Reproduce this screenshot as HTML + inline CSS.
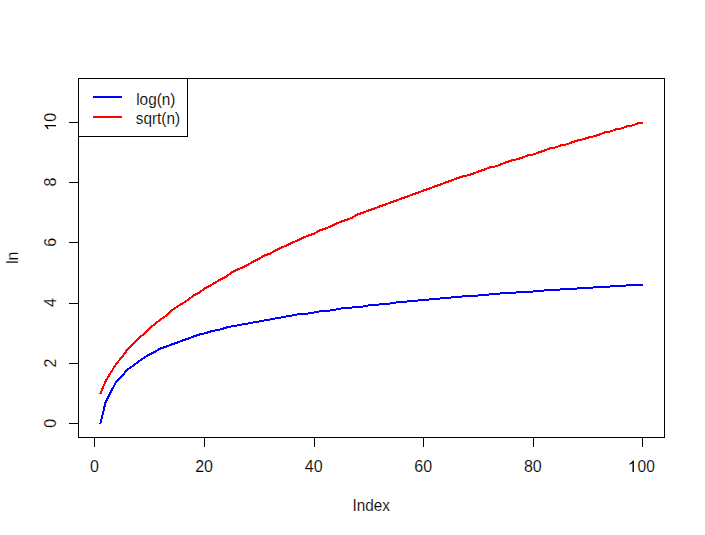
<!DOCTYPE html>
<html><head><meta charset="utf-8"><title>plot</title>
<style>
html,body{margin:0;padding:0;background:#fff;}
body{width:705px;height:535px;overflow:hidden;}
svg{display:block;}
text{font-family:"Liberation Sans",sans-serif;font-size:16px;fill:#000;stroke:#fff;stroke-width:0.15px;}
</style></head><body>
<svg width="705" height="535" viewBox="0 0 705 535">
<rect x="0" y="0" width="705" height="535" fill="#fff"/>
<g fill="none" stroke-width="2" stroke-linejoin="round" stroke-linecap="butt" shape-rendering="crispEdges">
<polyline stroke="#0000ff" points="100.40,424.00 100.46,423.49 105.46,402.49 111.46,390.49 116.46,381.49 122.46,375.49 127.46,369.49 133.46,365.49 138.46,361.49 144.46,357.49 149.46,354.49 155.46,351.49 160.46,348.49 166.46,346.49 171.46,344.49 177.46,342.49 182.46,340.49 188.46,338.49 193.46,336.49 199.46,334.49 204.46,333.49 210.46,331.49 215.46,330.49 220.46,329.49 226.46,327.49 231.46,326.49 237.46,325.49 242.46,324.49 248.46,323.49 253.46,322.49 259.46,321.49 264.46,320.49 270.46,319.49 275.46,318.49 281.46,317.49 286.46,316.49 292.46,315.49 297.46,314.49 303.46,314.49 308.46,313.49 314.46,312.49 319.46,311.49 325.46,311.49 330.46,310.49 336.46,309.49 341.46,308.49 347.46,308.49 352.46,307.49 357.46,307.49 363.46,306.49 368.46,305.49 374.46,305.49 379.46,304.49 385.46,304.49 390.46,303.49 396.46,302.49 401.46,302.49 407.46,301.49 412.46,301.49 418.46,300.49 423.46,300.49 429.46,299.49 434.46,299.49 440.46,298.49 445.46,298.49 451.46,297.49 456.46,297.49 462.46,296.49 467.46,296.49 473.46,296.49 478.46,295.49 484.46,295.49 489.46,294.49 495.46,294.49 500.46,293.49 505.46,293.49 511.46,293.49 516.46,292.49 522.46,292.49 527.46,292.49 533.46,291.49 538.46,291.49 544.46,290.49 549.46,290.49 555.46,290.49 560.46,289.49 566.46,289.49 571.46,289.49 577.46,288.49 582.46,288.49 588.46,288.49 593.46,287.49 599.46,287.49 604.46,287.49 610.46,286.49 615.46,286.49 621.46,286.49 626.46,285.49 632.46,285.49 637.46,285.49 642.49,284.99 643.00,284.99"/>
<polyline stroke="#ff0000" points="100.40,394.00 100.46,393.49 105.46,381.49 111.46,371.49 116.46,363.49 122.46,356.49 127.46,349.49 133.46,343.49 138.46,338.49 144.46,333.49 149.46,328.49 155.46,323.49 160.46,319.49 166.46,315.49 171.46,310.49 177.46,306.49 182.46,303.49 188.46,299.49 193.46,295.49 199.46,292.49 204.46,288.49 210.46,285.49 215.46,282.49 220.46,279.49 226.46,276.49 231.46,272.49 237.46,269.49 242.46,267.49 248.46,264.49 253.46,261.49 259.46,258.49 264.46,255.49 270.46,253.49 275.46,250.49 281.46,247.49 286.46,245.49 292.46,242.49 297.46,240.49 303.46,237.49 308.46,235.49 314.46,233.49 319.46,230.49 325.46,228.49 330.46,226.49 336.46,223.49 341.46,221.49 347.46,219.49 352.46,217.49 357.46,214.49 363.46,212.49 368.46,210.49 374.46,208.49 379.46,206.49 385.46,204.49 390.46,202.49 396.46,200.49 401.46,198.49 407.46,196.49 412.46,194.49 418.46,192.49 423.46,190.49 429.46,188.49 434.46,186.49 440.46,184.49 445.46,182.49 451.46,180.49 456.46,178.49 462.46,176.49 467.46,175.49 473.46,173.49 478.46,171.49 484.46,169.49 489.46,167.49 495.46,166.49 500.46,164.49 505.46,162.49 511.46,160.49 516.46,159.49 522.46,157.49 527.46,155.49 533.46,154.49 538.46,152.49 544.46,150.49 549.46,148.49 555.46,147.49 560.46,145.49 566.46,144.49 571.46,142.49 577.46,140.49 582.46,139.49 588.46,137.49 593.46,136.49 599.46,134.49 604.46,132.49 610.46,131.49 615.46,129.49 621.46,128.49 626.46,126.49 632.46,125.49 637.46,123.49 642.49,122.99 643.00,122.99"/>
</g>
<g stroke="#000" stroke-width="1" fill="none" shape-rendering="crispEdges">
<rect x="78.5" y="78.5" width="586" height="359"/>
<line x1="94.5" y1="437.5" x2="94.5" y2="447"/>
<line x1="204.5" y1="437.5" x2="204.5" y2="447"/>
<line x1="314.5" y1="437.5" x2="314.5" y2="447"/>
<line x1="423.5" y1="437.5" x2="423.5" y2="447"/>
<line x1="533.5" y1="437.5" x2="533.5" y2="447"/>
<line x1="642.5" y1="437.5" x2="642.5" y2="447"/>
<line x1="69" y1="423.5" x2="78.5" y2="423.5"/>
<line x1="69" y1="363.5" x2="78.5" y2="363.5"/>
<line x1="69" y1="303.5" x2="78.5" y2="303.5"/>
<line x1="69" y1="242.5" x2="78.5" y2="242.5"/>
<line x1="69" y1="182.5" x2="78.5" y2="182.5"/>
<line x1="69" y1="122.5" x2="78.5" y2="122.5"/>
<rect x="78.5" y="78.5" width="109" height="58" fill="#fff"/>
</g>
<g stroke-width="2" shape-rendering="crispEdges">
<line x1="93" y1="97" x2="122" y2="97" stroke="#0000ff"/>
<line x1="93" y1="117" x2="122" y2="117" stroke="#ff0000"/>
</g>
<text x="136.2" y="105" textLength="39.3" lengthAdjust="spacingAndGlyphs">log(n)</text>
<text x="135.8" y="124" textLength="44.3" lengthAdjust="spacingAndGlyphs">sqrt(n)</text>
<text x="94.44" y="472" text-anchor="middle">0</text>
<text x="204.05" y="472" text-anchor="middle">20</text>
<text x="313.66" y="472" text-anchor="middle">40</text>
<text x="423.26" y="472" text-anchor="middle">60</text>
<text x="532.87" y="472" text-anchor="middle">80</text>
<g transform="translate(629.13,472)"><path d="M763 0H583V1147Q518 1085 412.5 1023T223 930V1104Q374 1175 487 1276T647 1472H763Z" transform="translate(-1.2,0) scale(0.0078125,-0.0078125)" fill="#000" stroke="none"/><text x="8.40" y="0" textLength="17.3" lengthAdjust="spacingAndGlyphs">00</text></g>
<text transform="translate(56,423.31) rotate(-90)" text-anchor="middle">0</text>
<text transform="translate(56,362.98) rotate(-90)" text-anchor="middle">2</text>
<text transform="translate(56,302.65) rotate(-90)" text-anchor="middle">4</text>
<text transform="translate(56,242.32) rotate(-90)" text-anchor="middle">6</text>
<text transform="translate(56,181.99) rotate(-90)" text-anchor="middle">8</text>
<g transform="translate(56,130.56) rotate(-90)"><path d="M763 0H583V1147Q518 1085 412.5 1023T223 930V1104Q374 1175 487 1276T647 1472H763Z" transform="translate(-0.3,0) scale(0.0078125,-0.0078125)" fill="#000" stroke="none"/><text x="8.90" y="0">0</text></g>
<text x="352.4" y="511" textLength="37.4" lengthAdjust="spacingAndGlyphs">Index</text>
<text transform="translate(18,257.90) rotate(-90)" text-anchor="middle">ln</text>
</svg>
</body></html>
